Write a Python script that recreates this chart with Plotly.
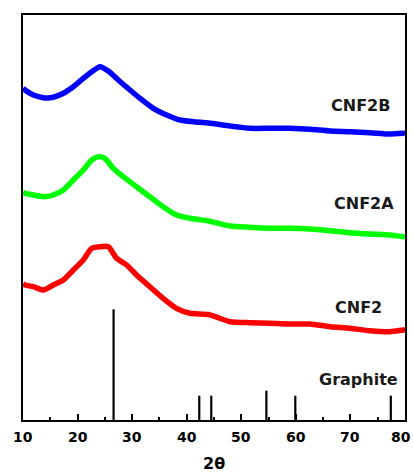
import plotly.graph_objects as go

# CNF2B (blue)
x_b = [10.0, 10.37, 11.89, 13.72, 15.55, 17.39, 19.22, 21.05, 22.59, 24.11, 25.63, 27.46, 29.6, 31.44, 33.88, 36.33, 38.77, 41.21, 44.0, 47.93, 51.6, 55.26, 58.93, 62.59, 66.26, 69.92, 73.59, 77.25, 79.7, 80.0]
y_b = [332, 330, 325, 322.3, 322.7, 326.7, 333.3, 341.7, 348.3, 353.3, 349, 340, 330, 321.7, 311.7, 305, 300, 298.3, 297, 294, 291.7, 291.7, 291.7, 290.7, 289, 288.3, 287.3, 286, 286.7, 286.5]
# CNF2A (green)
x_a = [10.0, 10.37, 11.89, 13.72, 15.55, 17.39, 19.22, 21.05, 22.59, 23.8, 25.0, 26.53, 28.36, 30.8, 33.24, 35.68, 38.13, 40.6, 44.0, 47.93, 51.6, 55.26, 58.93, 62.59, 66.26, 69.92, 73.59, 77.25, 79.7, 80.0]
y_a = [228, 226.7, 225, 223.3, 225, 230, 240, 250, 260, 263.3, 261.7, 251.7, 243.3, 233.3, 223.3, 213.3, 205, 201.7, 199, 194, 192.7, 191.7, 191.7, 191, 189.3, 187.3, 186, 185, 183.3, 183.5]
# CNF2 (red)
x_r = [10.0, 10.37, 11.89, 13.72, 15.55, 17.39, 19.22, 21.05, 22.59, 24.11, 25.63, 27.16, 29.0, 30.8, 33.24, 35.68, 38.13, 40.6, 44.0, 47.93, 51.6, 55.26, 58.93, 62.59, 66.26, 69.92, 73.59, 77.25, 79.7, 80.0]
y_r = [136, 135, 133.3, 130, 135, 140, 150, 160, 171.7, 173.3, 173.3, 161.7, 155, 145, 133.3, 121.7, 111.7, 106.7, 105.5, 98.3, 97.3, 96.7, 96, 96, 93.3, 91.7, 89.3, 88.3, 90, 90]
# Graphite reference sticks
g_pos = [26.6, 42.3, 44.5, 54.6, 59.9, 77.4]
g_h = [110.7, 24.3, 24.3, 29.3, 24.3, 24.3]

tick_vals = [10, 20, 30, 40, 50, 60, 70, 80]
tick_text = ["10", "20", "30", "40", "50", "60", "70", "80"]
labels = ["CNF2B", "CNF2A", "CNF2", "Graphite"]
label_x = [71.8, 72.5, 71.4, 71.4]
label_y = [315, 217, 113, 41]

FONT = "DejaVu Sans"

fig = go.Figure()
for xs, ys, col in [(x_b, y_b, "#0000ff"), (x_a, y_a, "#00ff00"), (x_r, y_r, "#ff0000")]:
    fig.add_trace(go.Scatter(x=xs, y=ys, mode="lines",
                             line=dict(color=col, width=5.5, shape="spline", smoothing=0.6),
                             showlegend=False, hoverinfo="skip"))

sx, sy = [], []
for p, h in zip(g_pos, g_h):
    sx += [p, p, None]
    sy += [0, h, None]
fig.add_trace(go.Scatter(x=sx, y=sy, mode="lines", line=dict(color="black", width=2.2),
                         showlegend=False, hoverinfo="skip"))

for t, lx, ly in zip(labels, label_x, label_y):
    fig.add_annotation(x=lx, y=ly, text=t, showarrow=False, xanchor="center", yanchor="middle",
                       font=dict(family=FONT, size=16, color="#1a1a1a", weight="bold"))

# tick labels (last one kept inside the page edge)
for i, (v, t) in enumerate(zip(tick_vals, tick_text)):
    last = i == len(tick_vals) - 1
    fig.add_annotation(x=v, y=-0.042, xref="x", yref="paper", text=t, showarrow=False,
                       xanchor="right" if last else "center", yanchor="middle",
                       xshift=8 if last else 0,
                       font=dict(family=FONT, size=14, color="black", weight="bold"))

fig.add_annotation(x=0.5, y=-0.1355, xref="paper", yref="paper", text="2θ", showarrow=False,
                   xanchor="center", yanchor="bottom",
                   font=dict(family=FONT, size=16, color="black", weight="bold"))

fig.update_layout(
    width=413, height=475,
    margin=dict(l=23, r=8, t=15, b=55, autoexpand=False),
    paper_bgcolor="white", plot_bgcolor="white",
    xaxis=dict(range=[10, 80], tickvals=tick_vals, showticklabels=False, ticks="inside", ticklen=6, tickwidth=2,
               tickcolor="black", showline=True, linewidth=2, linecolor="black", mirror=True,
               showgrid=False, zeroline=False, automargin=False,
               minor=dict(ticks="inside", ticklen=3, tickwidth=2, tickcolor="black", dtick=5, showgrid=False)),
    yaxis=dict(range=[0, 405], showticklabels=False, ticks="", showline=True, linewidth=2,
               linecolor="black", mirror=True, showgrid=False, zeroline=False, automargin=False),
)
fig.write_html("out.html")
